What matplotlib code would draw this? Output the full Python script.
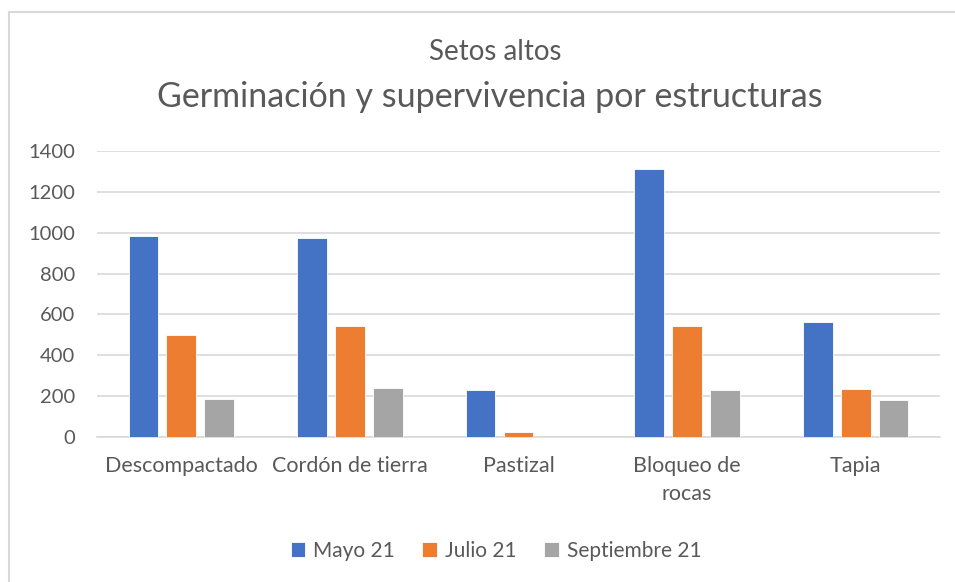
import numpy as np
import matplotlib.pyplot as plt
from matplotlib.lines import Line2D

categories = ["Descompactado", "Cordón de tierra", "Pastizal", "Bloqueo de\nrocas", "Tapia"]
series_names = ["Mayo 21", "Julio 21", "Septiembre 21"]
mayo = [986, 973, 231, 1311, 562]
julio = [499, 543, 23, 543, 237]
septiembre = [187, 242, 0, 231, 179]
yticks = [0, 200, 400, 600, 800, 1000, 1200, 1400]

colors = ["#4472c4", "#ed7d31", "#a5a5a5"]
text_col = "#595959"
grid_col = "#d9d9d9"

plt.rcParams['font.family'] = ['Lato', 'DejaVu Sans']

fig = plt.figure(figsize=(9.55, 5.82), dpi=100)
ax = fig.add_axes([97 / 955, 1 - 437 / 582, (940 - 97) / 955, (437 - 151) / 582])

x = np.arange(len(categories))
w = 0.176
step = 0.225
for i, (vals, name) in enumerate(zip([mayo, julio, septiembre], series_names)):
    ax.bar(x + (i - 1) * step, vals, width=w, color=colors[i], label=name,
           edgecolor="white", linewidth=0.6, zorder=3)

ax.set_xlim(-0.5, len(categories) - 0.5)
ax.set_ylim(0, 1400)
ax.set_yticks(yticks)
ax.set_xticks(x)
ax.set_xticklabels(categories, fontsize=15.5, color=text_col, linespacing=1.5)
ax.tick_params(axis='y', labelsize=14.5, labelcolor=text_col, length=0, pad=16)
ax.tick_params(axis='x', length=0, pad=14)
ax.grid(axis='y', color=grid_col, linewidth=1.2, zorder=0)
for s in ["top", "right", "left"]:
    ax.spines[s].set_visible(False)
ax.spines["bottom"].set_color(grid_col)
ax.spines["bottom"].set_linewidth(1.2)

fig.text(495 / 955, 1 - 52 / 582, "Setos altos", ha="center", va="center",
         fontsize=20, color=text_col)
fig.text(490 / 955, 1 - 97 / 582, "Germinación y supervivencia por estructuras",
         ha="center", va="center", fontsize=24.5, color=text_col)

fig.legend(loc="center", bbox_to_anchor=(496 / 955, 1 - 551 / 582), ncol=3,
           frameon=False, fontsize=15, labelcolor=text_col, handlelength=0.7,
           handleheight=0.7, handletextpad=0.4, columnspacing=1.3)

# chart area border
fig.add_artist(Line2D([9 / 955, 1], [1 - 12 / 582, 1 - 12 / 582], color=grid_col,
                      linewidth=1.5, transform=fig.transFigure))
fig.add_artist(Line2D([9 / 955, 9 / 955], [0, 1 - 12 / 582], color=grid_col,
                      linewidth=1.5, transform=fig.transFigure))

fig.savefig("out.png", dpi=100)
